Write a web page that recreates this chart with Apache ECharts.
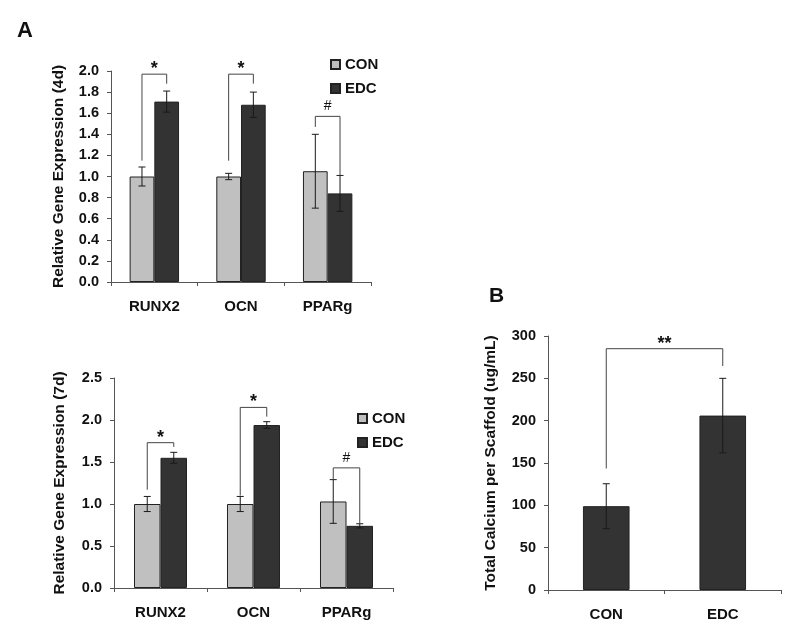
<!DOCTYPE html>
<html><head><meta charset="utf-8">
<script src="https://cdn.jsdelivr.net/npm/echarts@6/dist/echarts.min.js"></script>
<style>html,body{margin:0;padding:0;background:#fff}#c{width:800px;height:641px}</style>
</head><body><div id="c"></div>
<script>
// ---- data ----
const genes = ['RUNX2', 'OCN', 'PPARg'];
const groups = ['CON', 'EDC'];
// 4 days
const con4 = [1.00, 1.00, 1.05];
const edc4 = [1.71, 1.68, 0.84];
const conErr4 = [0.09, 0.03, 0.35];
const edcErr4 = [0.10, 0.12, 0.17];
// brackets: [category, top, left leg end, right leg end]
const brackets4 = [[0, 1.97, 1.15, 1.88], [1, 1.97, 1.15, 1.88], [2, 1.57, 1.47, 1.01]];
const marks4 = ['*', '*', '#'];
// 7 days
const con7 = [1.00, 1.00, 1.03];
const edc7 = [1.55, 1.94, 0.74];
const conErr7 = [0.09, 0.09, 0.26];
const edcErr7 = [0.065, 0.04, 0.025];
const brackets7 = [[0, 1.73, 1.17, 1.68], [1, 2.15, 1.10, 2.04], [2, 1.43, 1.29, 0.77]];
const marks7 = ['*', '*', '#'];
// calcium
const calCats = ['CON', 'EDC'];
const calcium = [99, 206];
const calErr = [26.5, 44];
// bracket: [left category, right category, top, left end, right end]
const bracketsCal = [[0, 1, 285, 143.5, 264.6]];
const marksCal = ['**'];
// axes
const y4 = { min: 0, max: 2.0, interval: 0.2 };
const y7 = { min: 0, max: 2.5, interval: 0.5 };
const yCal = { min: 0, max: 300, interval: 50 };

// ---- helpers ----
const FONT = 'Liberation Sans, Arial, sans-serif';
const AX = '#555';
const GAP2 = 0.43, GAPB = 0.60;

function errData(vals, errs) { return vals.map((v, i) => [i, v - errs[i], v + errs[i]]); }

function errRender(slot, gap, nBars) {
  return function (params, api) {
    const i = api.value(0);
    const lo = api.coord([i, api.value(1)]);
    const hi = api.coord([i, api.value(2)]);
    const band = api.size([1, 0])[0];
    const bw = band * (1 - gap) / nBars;
    const x = lo[0] + slot * bw / 2;
    const cap = 3.5;
    const st = { stroke: '#1a1a1a', lineWidth: 1 };
    return { type: 'group', children: [
      { type: 'line', shape: { x1: x, y1: lo[1], x2: x, y2: hi[1] }, style: st },
      { type: 'line', shape: { x1: x - cap, y1: lo[1], x2: x + cap, y2: lo[1] }, style: st },
      { type: 'line', shape: { x1: x - cap, y1: hi[1], x2: x + cap, y2: hi[1] }, style: st }
    ]};
  };
}

function bracketRender(lSlot, rSlot, gap, nBars, marks, markSize, twoCat) {
  return function (params, api) {
    let cl, cr, top, le, re;
    if (twoCat) { cl = api.value(0); cr = api.value(1); top = api.value(2); le = api.value(3); re = api.value(4); }
    else { cl = cr = api.value(0); top = api.value(1); le = api.value(2); re = api.value(3); }
    const band = api.size([1, 0])[0];
    const bw = band * (1 - gap) / nBars;
    const pT = api.coord([cl, top]);
    const xl = api.coord([cl, top])[0] + lSlot * bw / 2;
    const xr = api.coord([cr, top])[0] + rSlot * bw / 2;
    const yl = api.coord([cl, le])[1];
    const yr = api.coord([cr, re])[1];
    const m = marks[params.dataIndex];
    const isHash = m === '#';
    return { type: 'group', children: [
      { type: 'polyline', shape: { points: [[xl, yl], [xl, pT[1]], [xr, pT[1]], [xr, yr]] },
        style: { stroke: '#444', lineWidth: 1, fill: null } },
      { type: 'text', x: (xl + xr) / 2, y: pT[1] - (isHash ? 10 : 5),
        style: { text: m, fill: '#111', font: (isHash ? 'normal ' : 'bold ') + (isHash ? 14 : markSize) + 'px ' + FONT,
          align: 'center', verticalAlign: 'middle' } }
    ]};
  };
}

function xAx(grid, data) {
  return { type: 'category', gridIndex: grid, data: data,
    axisLine: { lineStyle: { color: AX, width: 1 } },
    axisTick: { show: true, length: 4, lineStyle: { color: AX } },
    axisLabel: { margin: 17, fontSize: 15, fontWeight: 'bold', color: '#111', fontFamily: FONT } };
}
function yAx(grid, r, name, gap, dec) {
  return { type: 'value', gridIndex: grid, min: r.min, max: r.max, interval: r.interval,
    name: name, nameLocation: 'middle', nameGap: gap,
    nameTextStyle: { fontSize: 15.5, fontWeight: 'bold', color: '#111', fontFamily: FONT },
    axisLine: { show: true, lineStyle: { color: AX, width: 1 } },
    axisTick: { show: true, length: 4, lineStyle: { color: AX } },
    splitLine: { show: false },
    axisLabel: { margin: 12, fontSize: 14.5, fontWeight: 'bold', color: '#111', fontFamily: FONT,
      formatter: v => v.toFixed(dec) } };
}

const barStyle = (c) => ({ color: c, borderColor: '#222', borderWidth: 1 });
const legendCfg = (left, top) => ({ data: groups, orient: 'vertical', left: left, top: top, padding: 0,
  itemWidth: 9, itemHeight: 9, itemGap: 9, icon: 'rect', selectedMode: false,
  textStyle: { fontSize: 15, fontWeight: 'bold', color: '#111', fontFamily: FONT } });

const CONC = '#c0c0c0', EDCC = '#333333';

const option = {
  animation: false,
  backgroundColor: '#fff',
  title: [
    { text: 'A', left: 17, top: 20, padding: 0, textStyle: { fontSize: 22, fontWeight: 'bold', color: '#111', fontFamily: FONT } },
    { text: 'B', left: 489, top: 286, padding: 0, textStyle: { fontSize: 21, fontWeight: 'bold', color: '#111', fontFamily: FONT } }
  ],
  legend: [legendCfg(330, 57), legendCfg(357, 411)],
  grid: [
    { left: 111, top: 71, width: 260, height: 211 },
    { left: 114, top: 378, width: 279, height: 210 },
    { left: 548, top: 336, width: 233, height: 254 }
  ],
  xAxis: [xAx(0, genes), xAx(1, genes), xAx(2, calCats)],
  yAxis: [
    yAx(0, y4, 'Relative Gene Expression (4d)', 44, 1),
    yAx(1, y7, 'Relative Gene Expression (7d)', 46, 1),
    yAx(2, yCal, 'Total Calcium per Scaffold (ug/mL)', 49, 0)
  ],
  series: [
    { name: 'CON', type: 'bar', xAxisIndex: 0, yAxisIndex: 0, data: con4, barGap: '0%', barCategoryGap: '43%', itemStyle: barStyle(CONC) },
    { name: 'EDC', type: 'bar', xAxisIndex: 0, yAxisIndex: 0, data: edc4, barGap: '0%', barCategoryGap: '43%', itemStyle: barStyle(EDCC) },
    { name: 'CON', type: 'bar', xAxisIndex: 1, yAxisIndex: 1, data: con7, barGap: '0%', barCategoryGap: '43%', itemStyle: barStyle(CONC) },
    { name: 'EDC', type: 'bar', xAxisIndex: 1, yAxisIndex: 1, data: edc7, barGap: '0%', barCategoryGap: '43%', itemStyle: barStyle(EDCC) },
    { name: 'Calcium', type: 'bar', xAxisIndex: 2, yAxisIndex: 2, data: calcium, barCategoryGap: '60%', itemStyle: barStyle(EDCC) },
    { type: 'custom', xAxisIndex: 0, yAxisIndex: 0, data: errData(con4, conErr4), renderItem: errRender(-1, GAP2, 2), encode: { x: 0, y: [1, 2] }, z: 5 },
    { type: 'custom', xAxisIndex: 0, yAxisIndex: 0, data: errData(edc4, edcErr4), renderItem: errRender(1, GAP2, 2), encode: { x: 0, y: [1, 2] }, z: 5 },
    { type: 'custom', xAxisIndex: 1, yAxisIndex: 1, data: errData(con7, conErr7), renderItem: errRender(-1, GAP2, 2), encode: { x: 0, y: [1, 2] }, z: 5 },
    { type: 'custom', xAxisIndex: 1, yAxisIndex: 1, data: errData(edc7, edcErr7), renderItem: errRender(1, GAP2, 2), encode: { x: 0, y: [1, 2] }, z: 5 },
    { type: 'custom', xAxisIndex: 2, yAxisIndex: 2, data: errData(calcium, calErr), renderItem: errRender(0, GAPB, 1), encode: { x: 0, y: [1, 2] }, z: 5 },
    { type: 'custom', xAxisIndex: 0, yAxisIndex: 0, data: brackets4, renderItem: bracketRender(-1, 1, GAP2, 2, marks4, 18, false), encode: { x: 0, y: [1, 2, 3] }, z: 6 },
    { type: 'custom', xAxisIndex: 1, yAxisIndex: 1, data: brackets7, renderItem: bracketRender(-1, 1, GAP2, 2, marks7, 18, false), encode: { x: 0, y: [1, 2, 3] }, z: 6 },
    { type: 'custom', xAxisIndex: 2, yAxisIndex: 2, data: bracketsCal, renderItem: bracketRender(0, 0, GAPB, 1, marksCal, 18, true), encode: { x: [0, 1], y: [2, 3, 4] }, z: 6 }
  ]
};
const chart = echarts.init(document.getElementById('c'), null, { renderer: 'canvas' });
chart.setOption(option);
</script></body></html>
